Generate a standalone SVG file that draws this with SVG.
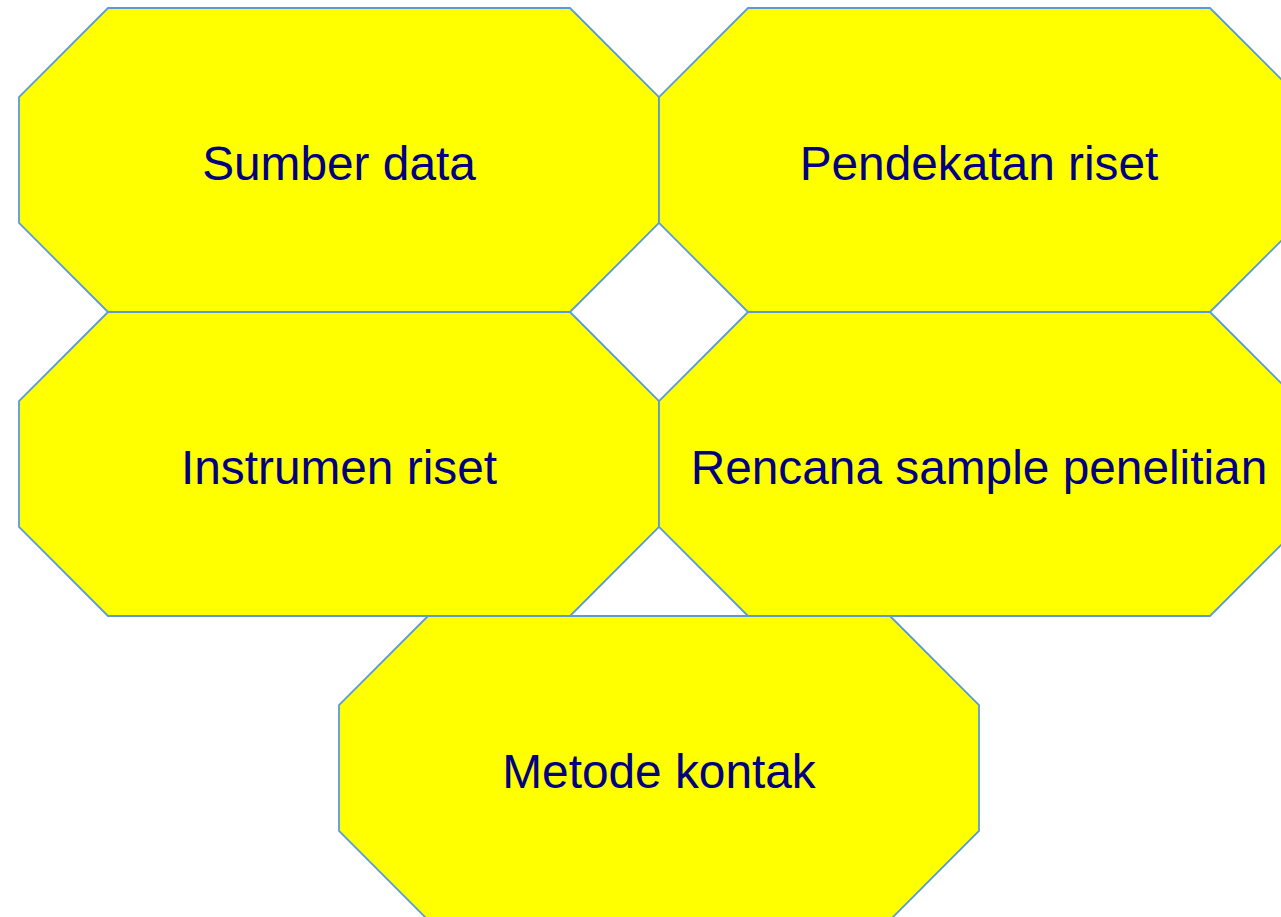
<svg xmlns="http://www.w3.org/2000/svg" width="1281" height="917" viewBox="0 0 1281 917">
  <style>
    .oct { fill: #FFFF00; stroke: #5B9BD5; stroke-width: 1.8; }
    .lbl { font-family: "Liberation Sans", Arial, sans-serif; font-size: 47.8px; fill: #000080; text-anchor: middle; }
  </style>
  <defs>
    <!-- octagon 640 x 304 with 89px chamfered corners, origin at top-left of bounding box -->
    <polygon id="octShape" points="89,0 551,0 640,89 640,215 551,304 89,304 0,215 0,89"/>
  </defs>
  <rect width="1281" height="917" fill="#FFFFFF"/>
  <g id="node-sumber-data">
    <use href="#octShape" class="oct" x="19" y="8"/>
    <text class="lbl" x="339" y="180">Sumber data</text>
  </g>
  <g id="node-pendekatan-riset">
    <use href="#octShape" class="oct" x="659" y="8"/>
    <text class="lbl" x="979" y="180">Pendekatan riset</text>
  </g>
  <g id="node-instrumen-riset">
    <use href="#octShape" class="oct" x="19" y="312"/>
    <text class="lbl" x="339" y="484">Instrumen riset</text>
  </g>
  <g id="node-rencana-sample">
    <use href="#octShape" class="oct" x="659" y="312"/>
    <text class="lbl" x="979" y="484">Rencana sample penelitian</text>
  </g>
  <g id="node-metode-kontak">
    <use href="#octShape" class="oct" x="339" y="616"/>
    <text class="lbl" x="659" y="788">Metode kontak</text>
  </g>
  <g id="connectors"></g>
</svg>
